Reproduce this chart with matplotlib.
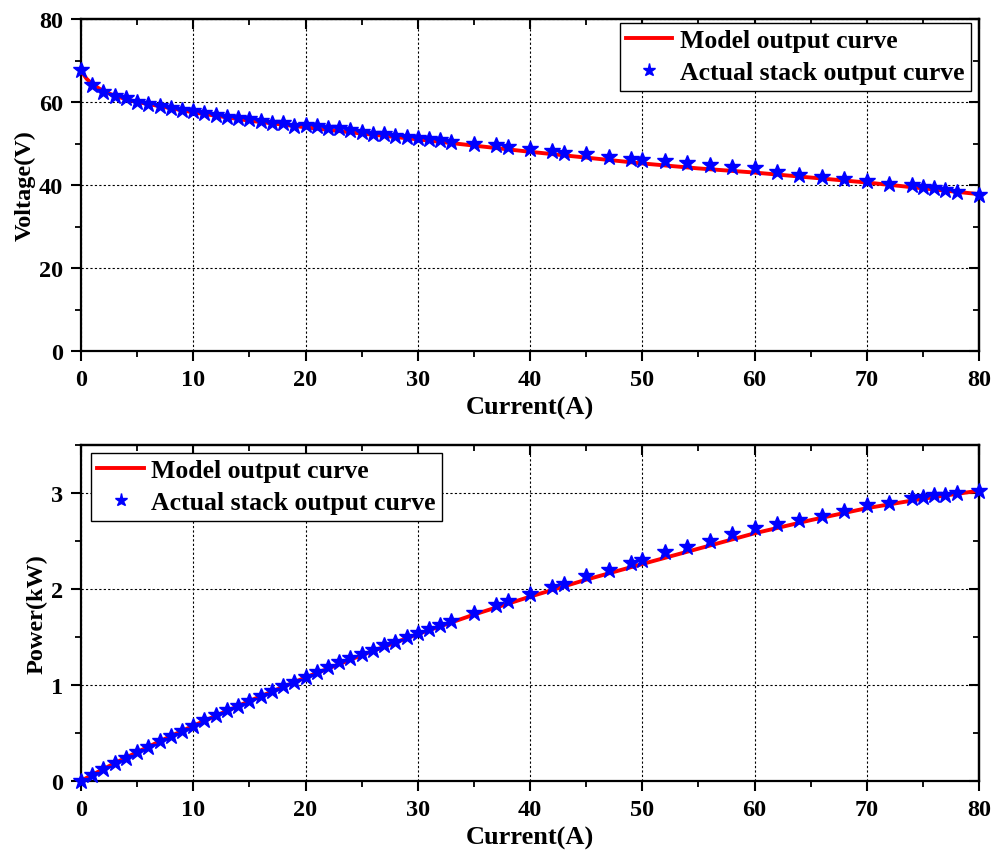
import matplotlib
matplotlib.use("Agg")
import matplotlib.pyplot as plt
from matplotlib.ticker import MultipleLocator

plt.rcParams['font.family'] = ['Liberation Serif', 'DejaVu Serif']
plt.rcParams['font.weight'] = 'bold'

# Actual stack measurements
current = [0, 1, 2, 3, 4, 5, 6, 7, 8, 9, 10, 11, 12, 13, 14, 15, 16, 17, 18, 19,
           20, 21, 22, 23, 24, 25, 26, 27, 28, 29, 30, 31, 32, 33, 35, 37, 38, 40,
           42, 43, 45, 47, 49, 50, 52, 54, 56, 58, 60, 62, 64, 66, 68, 70, 72, 74,
           75, 76, 77, 78, 80]
voltage = [67.7, 64.2, 62.5, 61.5, 60.9, 60.0, 59.6, 59.1, 58.5, 58.1, 57.8, 57.4,
           56.9, 56.5, 56.1, 55.8, 55.5, 55.0, 54.9, 54.2, 54.4, 54.1, 53.8, 53.7,
           53.3, 52.7, 52.4, 52.3, 51.9, 51.6, 51.3, 51.2, 50.8, 50.4, 50.0, 49.6,
           49.2, 48.6, 48.1, 47.8, 47.4, 46.8, 46.3, 46.0, 45.8, 45.2, 44.7, 44.3,
           44.0, 43.2, 42.5, 41.9, 41.4, 41.0, 40.2, 39.9, 39.4, 39.2, 38.7, 38.4,
           37.7]
power = [0.0, 0.064, 0.125, 0.185, 0.244, 0.300, 0.358, 0.414, 0.468, 0.523, 0.578,
         0.631, 0.683, 0.735, 0.785, 0.837, 0.888, 0.935, 0.988, 1.030, 1.088,
         1.136, 1.184, 1.235, 1.279, 1.318, 1.362, 1.412, 1.453, 1.496, 1.539,
         1.587, 1.626, 1.663, 1.750, 1.835, 1.870, 1.944, 2.020, 2.055, 2.133,
         2.200, 2.269, 2.300, 2.382, 2.441, 2.503, 2.569, 2.640, 2.678, 2.720,
         2.765, 2.815, 2.870, 2.894, 2.953, 2.955, 2.979, 2.980, 2.995, 3.016]

# Model curve
model_current = [0, 0.5, 1, 2, 3, 4, 5, 6, 8, 10, 15, 20, 25, 30, 35, 40, 45, 50,
                 55, 60, 65, 70, 75, 80]
model_voltage = [67.5, 65.6, 64.3, 62.6, 61.5, 60.7, 60.0, 59.5, 58.5, 57.5, 55.5,
                 53.9, 52.4, 51.0, 49.5, 48.0, 46.6, 45.2, 44.0, 43.0, 41.8, 40.6,
                 39.2, 37.8]
model_power = [0.0, 0.033, 0.064, 0.125, 0.185, 0.243, 0.300, 0.357, 0.468, 0.575,
               0.833, 1.078, 1.310, 1.530, 1.733, 1.920, 2.097, 2.260, 2.420, 2.580,
               2.717, 2.842, 2.940, 3.024]

legend_labels = ['Model output curve', 'Actual stack output curve']

W, H = 994, 854
fig = plt.figure(figsize=(W / 100, H / 100), dpi=100)

AW = 898
ax1 = fig.add_axes([81 / W, 1 - 352 / H, AW / W, 332 / H])
ax2 = fig.add_axes([81 / W, 1 - 782 / H, AW / W, 336 / H])

TFS = 17.5
XLFS = 19
YLFS = 17.5
LFS = 18.5

def style(ax, ylim, ymaj, ymin, ylabel):
    ax.set_xlim(0, 80)
    ax.set_ylim(*ylim)
    ax.xaxis.set_major_locator(MultipleLocator(10))
    ax.xaxis.set_minor_locator(MultipleLocator(5))
    ax.yaxis.set_major_locator(MultipleLocator(ymaj))
    ax.yaxis.set_minor_locator(MultipleLocator(ymin))
    ax.grid(True, which='major', color='black', linestyle=(0, (2, 2)), linewidth=0.8)
    for s in ax.spines.values():
        s.set_linewidth(1.6)
    ax.tick_params(which='major', direction='out', length=7, width=1.5,
                   labelsize=TFS, pad=6)
    ax.tick_params(which='minor', direction='out', length=4, width=1.3)
    for lab in ax.get_xticklabels() + ax.get_yticklabels():
        lab.set_fontweight('bold')
    ax.set_xlabel('Current(A)', fontsize=XLFS, fontweight='bold', labelpad=4)
    ax.set_ylabel(ylabel, fontsize=YLFS, fontweight='bold', labelpad=2)
    # mirrored ticks pointing inward
    top = ax.secondary_xaxis('top')
    top.xaxis.set_major_locator(MultipleLocator(10))
    top.xaxis.set_minor_locator(MultipleLocator(5))
    top.tick_params(which='major', direction='in', length=7, width=1.5, labeltop=False)
    top.tick_params(which='minor', direction='in', length=4, width=1.3)
    top.spines['top'].set_linewidth(1.6)
    right = ax.secondary_yaxis('right')
    right.yaxis.set_major_locator(MultipleLocator(ymaj))
    right.yaxis.set_minor_locator(MultipleLocator(ymin))
    right.tick_params(which='major', direction='in', length=7, width=1.5, labelright=False)
    right.tick_params(which='minor', direction='in', length=4, width=1.3)
    right.spines['right'].set_linewidth(1.6)

style(ax1, (0, 80), 20, 10, 'Voltage(V)')
style(ax2, (0, 3.5), 1, 0.5, 'Power(kW)')

configs = [
    (ax1, model_voltage, voltage, 'upper right', (1 - 8 / AW, 1 - 4 / 332)),
    (ax2, model_power, power, 'upper left', (10 / AW, 1 - 8 / 336)),
]
for ax, my, y, loc, anchor in configs:
    ax.plot(model_current, my, color='red', linewidth=2.8, label=legend_labels[0], zorder=3)
    ax.plot(current, y, linestyle='none', marker='*', markersize=12, color='blue',
            label=legend_labels[1], zorder=4, clip_on=False)
    leg = ax.legend(loc=loc, bbox_to_anchor=anchor, borderaxespad=0,
                    frameon=True, fancybox=False,
                    edgecolor='black', framealpha=1, borderpad=0.25,
                    handlelength=1.8, handletextpad=0.3, labelspacing=0.35,
                    markerscale=0.8,
                    prop={'weight': 'bold', 'size': LFS})
    leg.get_frame().set_linewidth(1.0)

fig.savefig('out.png', dpi=100)
